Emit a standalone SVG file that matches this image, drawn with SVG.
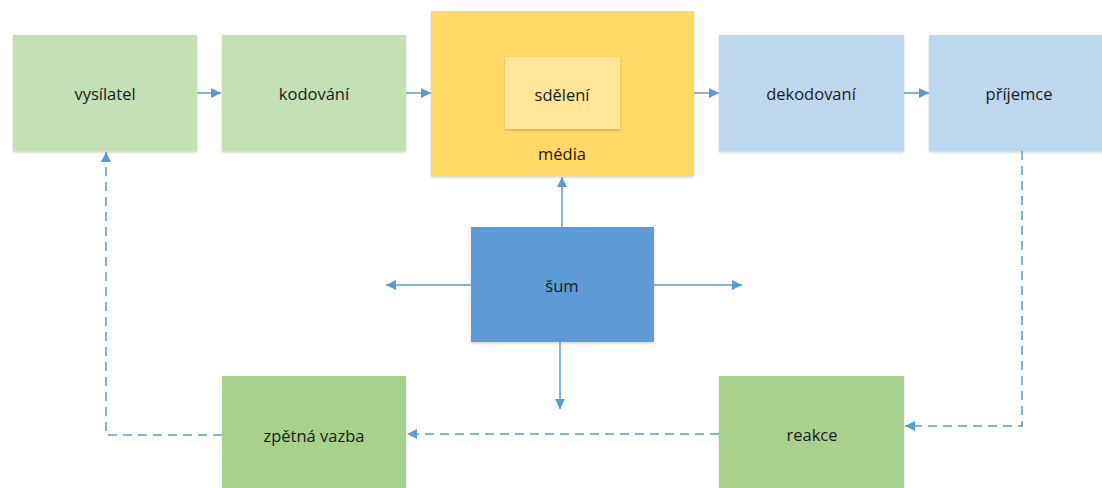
<svg xmlns="http://www.w3.org/2000/svg" width="1102" height="488" viewBox="0 0 1102 488">
<defs>
<marker id="ah" viewBox="0 0 10 10" refX="10" refY="5" markerWidth="10" markerHeight="10" markerUnits="userSpaceOnUse" orient="auto">
<path d="M0,0 L10,5 L0,10 Z" fill="#5B9BD5"/>
</marker>
<filter id="sh" x="-5%" y="-5%" width="110%" height="115%">
<feDropShadow dx="0" dy="1.5" stdDeviation="1.2" flood-color="#000" flood-opacity="0.18"/>
</filter>
</defs>
<style>
text{font-family:"Open Sans","Liberation Sans",sans-serif;font-size:16.5px;fill:#1a1a1a;text-anchor:middle;dominant-baseline:central}
.n{filter:url(#sh)}
.c{stroke:#5B9BD5;stroke-width:1.5;fill:none}
.d{stroke-dasharray:9,6}
</style>
<rect width="1102" height="488" fill="#fff"/>
<g id="vysilatel"><rect class="n" x="13" y="35" width="184" height="116" fill="#C5E0B4"/><text x="105" y="93">vysílatel</text></g>
<g id="kodovani"><rect class="n" x="222" y="35" width="184" height="116" fill="#C5E0B4"/><text x="314" y="93">kodování</text></g>
<g id="media"><rect class="n" x="431" y="11" width="263" height="165" fill="#FFD966"/><text x="562" y="153">média</text></g>
<g id="sdeleni"><rect class="n" x="505" y="57" width="115" height="72" fill="#FFE699"/><text x="562" y="94">sdělení</text></g>
<g id="dekodovani"><rect class="n" x="719" y="35" width="185" height="116" fill="#BDD7EE"/><text x="811" y="93">dekodovaní</text></g>
<g id="prijemce"><rect class="n" x="929" y="35" width="185" height="116" fill="#BDD7EE"/><text x="1019" y="93">příjemce</text></g>
<g id="sum"><rect class="n" x="471" y="227" width="183" height="115" fill="#5B9BD5"/><text x="562" y="285">šum</text></g>
<g id="zpetna-vazba"><rect class="n" x="222" y="376" width="184" height="116" fill="#A9D18E"/><text x="314" y="435">zpětná vazba</text></g>
<g id="reakce"><rect class="n" x="719" y="376" width="185" height="116" fill="#A9D18E"/><text x="812" y="434">reakce</text></g>
<g id="connectors">
<path class="c" d="M197,93 L221,93" marker-end="url(#ah)"/>
<path class="c" d="M406,93 L431,93" marker-end="url(#ah)"/>
<path class="c" d="M694,93 L719,93" marker-end="url(#ah)"/>
<path class="c" d="M904,93 L929,93" marker-end="url(#ah)"/>
<path class="c" d="M562,227 L562,177" marker-end="url(#ah)"/>
<path class="c" d="M471,285 L386,285" marker-end="url(#ah)"/>
<path class="c" d="M654,285 L742,285" marker-end="url(#ah)"/>
<path class="c" d="M560,342 L560,409" marker-end="url(#ah)"/>
<path class="c d" d="M1022,151 L1022,426 L905,426" marker-end="url(#ah)"/>
<path class="c d" d="M719,434 L407,434" marker-end="url(#ah)"/>
<path class="c d" d="M222,435 L106,435 L106,152" marker-end="url(#ah)"/>
</g>
</svg>
